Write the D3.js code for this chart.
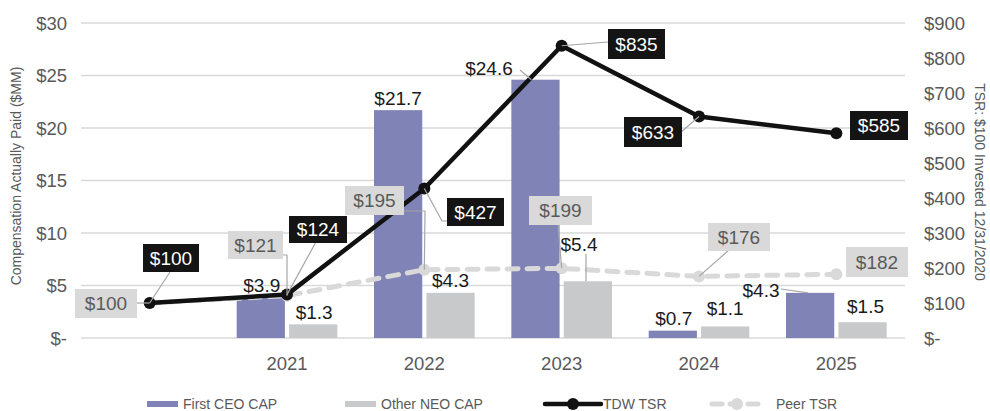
<!DOCTYPE html>
<html>
<head>
<meta charset="utf-8">
<script src="https://cdn.jsdelivr.net/npm/d3@7"></script>
<style>
  html, body { margin: 0; padding: 0; background: #fff; }
  svg { display: block; font-family: "Liberation Sans", Arial, sans-serif; }
</style>
</head>
<body>
<svg id="chart" width="990" height="411"></svg>
<script>
// Fiscal years (first slot is the $100 starting point, no bars)
const years = ["2020", "2021", "2022", "2023", "2024", "2025"];
const yearLabels = ["", "2021", "2022", "2023", "2024", "2025"];

// Compensation actually paid, $MM
const firstCeoCap = [null, 3.9, 21.7, 24.6, 0.7, 4.3];
const otherNeoCap = [null, 1.3, 4.3, 5.4, 1.1, 1.5];

// Cumulative TSR of $100 invested 12/31/2020
const tdwTsr = [100, 124, 427, 835, 633, 585];
const peerTsr = [100, 121, 195, 199, 176, 182];

const leftTicks = [0, 5, 10, 15, 20, 25, 30];
const rightTicks = [0, 100, 200, 300, 400, 500, 600, 700, 800, 900];

const C = {
  ceo: "#7f83b6",
  neo: "#c7c9cb",
  tdw: "#111111",
  peer: "#d9d9d9",
  grid: "#d9d9d9",
  axisText: "#595959",
  leader: "#a6a6a6"
};

const svg = d3.select("#chart");
const plot = { left: 81, right: 905, top: 23, bottom: 338 };

const x = d3.scaleBand().domain(years).range([plot.left, plot.right]);
const xs = d3.scaleBand().domain(["ceo", "neo"]).range([0, x.bandwidth()])
  .paddingInner(0.08).paddingOuter(0.35);
const yL = d3.scaleLinear().domain([0, 30]).range([plot.bottom, plot.top]);
const yR = d3.scaleLinear().domain([0, 900]).range([plot.bottom, plot.top]);
const cx = i => x(years[i]) + x.bandwidth() / 2;

// Gridlines
svg.append("g").selectAll("line").data(leftTicks).join("line")
  .attr("x1", plot.left).attr("x2", plot.right)
  .attr("y1", d => yL(d)).attr("y2", d => yL(d))
  .attr("stroke", C.grid).attr("stroke-width", 1.3);

// Left axis
const fmtL = d => d === 0 ? "$-" : "$" + d;
const leftAxis = svg.append("g").attr("transform", `translate(${plot.left - 14},0)`)
  .call(d3.axisLeft(yL).tickValues(leftTicks).tickFormat(fmtL).tickSize(0).tickPadding(0));
leftAxis.select(".domain").remove();
leftAxis.selectAll("text").attr("fill", C.axisText).attr("font-size", 18.5).attr("dy", "0.35em");

// Right axis
const fmtR = d => d === 0 ? "$-" : "$" + d;
const rightAxis = svg.append("g").attr("transform", `translate(${plot.right + 19},0)`)
  .call(d3.axisRight(yR).tickValues(rightTicks).tickFormat(fmtR).tickSize(0).tickPadding(0));
rightAxis.select(".domain").remove();
rightAxis.selectAll("text").attr("fill", C.axisText).attr("font-size", 18.5).attr("dy", "0.35em");

// X axis labels
const xAxis = svg.append("g").attr("transform", `translate(0,${plot.bottom + 14})`)
  .call(d3.axisBottom(x).tickFormat((d, i) => yearLabels[i]).tickSize(0).tickPadding(0));
xAxis.select(".domain").remove();
xAxis.selectAll("text").attr("fill", C.axisText).attr("font-size", 18.5).attr("dy", "0.95em");

// Axis titles
svg.append("text")
  .attr("transform", `translate(21,176) rotate(-90)`)
  .attr("text-anchor", "middle").attr("fill", C.axisText).attr("font-size", 14)
  .text("Compensation Actually Paid ($MM)");
svg.append("text")
  .attr("transform", `translate(975,182) rotate(90)`)
  .attr("text-anchor", "middle").attr("fill", C.axisText).attr("font-size", 14)
  .text("TSR: $100 Invested 12/31/2020");

// Bars
const barData = [];
years.forEach((yr, i) => {
  if (firstCeoCap[i] != null) barData.push({ yr, key: "ceo", v: firstCeoCap[i], i });
  if (otherNeoCap[i] != null) barData.push({ yr, key: "neo", v: otherNeoCap[i], i });
});
svg.append("g").selectAll("rect").data(barData).join("rect")
  .attr("x", d => x(d.yr) + xs(d.key))
  .attr("width", xs.bandwidth())
  .attr("y", d => yL(d.v))
  .attr("height", d => yL(0) - yL(d.v))
  .attr("fill", d => d.key === "ceo" ? C.ceo : C.neo);

// Peer TSR line (dashed)
const peerLine = d3.line().x((d, i) => cx(i)).y(d => yR(d));
svg.append("path").datum(peerTsr)
  .attr("d", peerLine).attr("fill", "none")
  .attr("stroke", C.peer).attr("stroke-width", 5)
  .attr("stroke-dasharray", "11,9").attr("stroke-linecap", "round");
svg.append("g").selectAll("circle").data(peerTsr).join("circle")
  .attr("cx", (d, i) => cx(i)).attr("cy", d => yR(d)).attr("r", 6)
  .attr("fill", C.peer);

// TDW TSR line
const tdwLine = d3.line().x((d, i) => cx(i)).y(d => yR(d));
svg.append("path").datum(tdwTsr)
  .attr("d", tdwLine).attr("fill", "none")
  .attr("stroke", C.tdw).attr("stroke-width", 4.5).attr("stroke-linejoin", "round");
svg.append("g").selectAll("circle").data(tdwTsr).join("circle")
  .attr("cx", (d, i) => cx(i)).attr("cy", d => yR(d)).attr("r", 6)
  .attr("fill", C.tdw);

// Label helpers
const labels = svg.append("g");
function leader(points) {
  labels.append("polyline")
    .attr("points", points.map(p => p.join(",")).join(" "))
    .attr("fill", "none").attr("stroke", C.leader).attr("stroke-width", 1.2);
}
function boxLabel(text, bx, by, bw, bh, fill, color) {
  labels.append("rect").attr("x", bx).attr("y", by).attr("width", bw).attr("height", bh).attr("fill", fill);
  labels.append("text").attr("x", bx + bw / 2).attr("y", by + bh / 2).attr("dy", "0.36em")
    .attr("text-anchor", "middle").attr("font-size", 19).attr("fill", color).text(text);
}
function plainLabel(text, lx, ly) {
  labels.append("text").attr("x", lx).attr("y", ly).attr("text-anchor", "middle")
    .attr("font-size", 19).attr("fill", "#1a1a1a").text(text);
}
const money = v => "$" + v;
const moneyMM = v => "$" + v.toFixed(1);

// Bar value labels
const barTop = (i, k) => yL(k === "ceo" ? firstCeoCap[i] : otherNeoCap[i]);
const barMid = (i, k) => x(years[i]) + xs(k) + xs.bandwidth() / 2;
plainLabel(moneyMM(firstCeoCap[1]), barMid(1, "ceo") + 1, barTop(1, "ceo") - 5);
plainLabel(moneyMM(otherNeoCap[1]), barMid(1, "neo") + 1, barTop(1, "neo") - 5);
plainLabel(moneyMM(firstCeoCap[2]), barMid(2, "ceo"), barTop(2, "ceo") - 5);
plainLabel(moneyMM(otherNeoCap[2]), barMid(2, "neo"), barTop(2, "neo") - 6);
plainLabel(moneyMM(firstCeoCap[3]), 489, 75);
leader([[520, 70], [x(years[3]) + xs("ceo") + 20, barTop(3, "ceo")]]);
plainLabel(moneyMM(otherNeoCap[3]), 579, 251);
leader([[586, 254], [586, barTop(3, "neo")]]);
plainLabel(moneyMM(firstCeoCap[4]), barMid(4, "ceo") + 1, barTop(4, "ceo") - 6);
plainLabel(moneyMM(otherNeoCap[4]), barMid(4, "neo"), barTop(4, "neo") - 11);
plainLabel(moneyMM(firstCeoCap[5]), 761, 297);
leader([[781, 289], [808, barTop(5, "ceo")]]);
plainLabel(moneyMM(otherNeoCap[5]), barMid(5, "neo") + 3, barTop(5, "neo") - 9);

// Peer TSR labels
const peerFill = "#d9d9d9", peerText = "#595959";
leader([[137, 303], [cx(0), yR(peerTsr[0])]]);
boxLabel(money(peerTsr[0]), 75, 289, 62, 29, peerFill, peerText);
leader([[281, 255], [287, 255], [cx(1), yR(peerTsr[1])]]);
boxLabel(money(peerTsr[1]), 228, 231, 55, 28, peerFill, peerText);
leader([[404, 211], [425, 211], [cx(2), yR(peerTsr[2])]]);
boxLabel(money(peerTsr[2]), 345, 186, 59, 29, peerFill, peerText);
leader([[558, 224], [cx(3), yR(peerTsr[3])]]);
boxLabel(money(peerTsr[3]), 529, 196, 63, 29, peerFill, peerText);
leader([[729, 250], [cx(4), yR(peerTsr[4])]]);
boxLabel(money(peerTsr[4]), 708, 223, 62, 28, peerFill, peerText);
boxLabel(money(peerTsr[5]), 846, 247, 62, 30, peerFill, peerText);

// TDW TSR labels
const tdwFill = "#141414", tdwText = "#ffffff";
leader([[cx(0), yR(tdwTsr[0])], [170, 272]]);
boxLabel(money(tdwTsr[0]), 143, 244, 56, 28, tdwFill, tdwText);
leader([[cx(1), yR(tdwTsr[1])], [316, 242]]);
boxLabel(money(tdwTsr[1]), 289, 216, 58, 27, tdwFill, tdwText);
leader([[cx(2), yR(tdwTsr[2])], [442, 221], [448, 221]]);
boxLabel(money(tdwTsr[2]), 447, 198, 57, 28, tdwFill, tdwText);
leader([[cx(3), yR(tdwTsr[3])], [608, 42]]);
boxLabel(money(tdwTsr[3]), 608, 29, 57, 30, tdwFill, tdwText);
leader([[cx(4), yR(tdwTsr[4])], [680, 133]]);
boxLabel(money(tdwTsr[4]), 624, 117, 58, 30, tdwFill, tdwText);
boxLabel(money(tdwTsr[5]), 850, 111, 58, 29, tdwFill, tdwText);

// Legend
const legend = svg.append("g").attr("transform", "translate(0,404)");
const legItems = [
  { label: "First CEO CAP", x: 147, type: "bar", color: C.ceo },
  { label: "Other NEO CAP", x: 345, type: "bar", color: C.neo },
  { label: "TDW TSR", x: 545, type: "line", color: C.tdw },
  { label: "Peer TSR", x: 710, type: "dash", color: C.peer }
];
legItems.forEach(it => {
  const g = legend.append("g").attr("transform", `translate(${it.x},0)`);
  if (it.type === "bar") {
    g.append("rect").attr("x", 0).attr("y", -3).attr("width", 31).attr("height", 6).attr("fill", it.color);
    g.append("text").attr("x", 36).attr("y", 0).attr("dy", "0.35em").attr("font-size", 14)
      .attr("fill", C.axisText).text(it.label);
  } else if (it.type === "line") {
    g.append("line").attr("x1", 0).attr("x2", 56).attr("y1", 0).attr("y2", 0)
      .attr("stroke", it.color).attr("stroke-width", 4.5).attr("stroke-linecap", "round");
    g.append("circle").attr("cx", 28).attr("cy", 0).attr("r", 6).attr("fill", it.color);
    g.append("text").attr("x", 58).attr("y", 0).attr("dy", "0.35em").attr("font-size", 14)
      .attr("fill", C.axisText).text(it.label);
  } else {
    g.append("line").attr("x1", 2).attr("x2", 52).attr("y1", 0).attr("y2", 0)
      .attr("stroke", it.color).attr("stroke-width", 5).attr("stroke-dasharray", "10,8")
      .attr("stroke-linecap", "round");
    g.append("circle").attr("cx", 27).attr("cy", 0).attr("r", 6).attr("fill", it.color);
    g.append("text").attr("x", 66).attr("y", 0).attr("dy", "0.35em").attr("font-size", 14)
      .attr("fill", C.axisText).text(it.label);
  }
});
</script>
</body>
</html>
